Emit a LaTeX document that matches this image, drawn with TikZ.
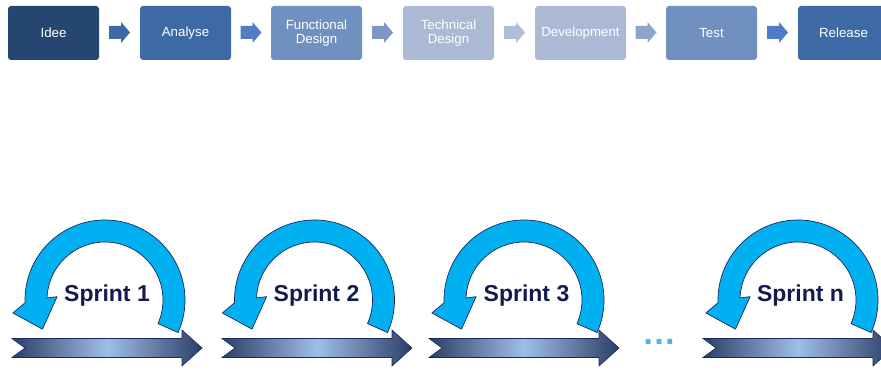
\documentclass[tikz,border=0pt]{standalone}
\usepackage{fontspec}
\setmainfont{Liberation Sans}
\usetikzlibrary{calc}
\definecolor{cIdee}{HTML}{244670}
\definecolor{cAna}{HTML}{3D69A5}
\definecolor{cFun}{HTML}{7190C2}
\definecolor{cTec}{HTML}{ABB9D5}
\definecolor{aOne}{HTML}{3D68A6}
\definecolor{aTwo}{HTML}{537DC0}
\definecolor{aThree}{HTML}{7E98C6}
\definecolor{aFour}{HTML}{B0BEDA}
\definecolor{aFive}{HTML}{8FA5CC}
\definecolor{aSix}{HTML}{4F7CC4}
\definecolor{loopblue}{HTML}{00B0F0}
\definecolor{navyline}{HTML}{1B2560}
\definecolor{barDark}{HTML}{2A3F68}
\definecolor{barLight}{HTML}{A0BEE6}
\definecolor{sprinttext}{HTML}{141A4E}
\definecolor{dotblue}{HTML}{50B4EA}
\tikzset{
  phase/.style={rounded corners=3pt, minimum width=91pt, minimum height=54pt,
    inner sep=0pt, align=center, text=white,
    font=\fontsize{13.3}{14}\selectfont},
  pics/chev/.style={code={
    \fill[#1] (-10.5,6.5) -- (1.5,6.5) -- (1.5,10.5) -- (10.5,0) -- (1.5,-10.5)
      -- (1.5,-6.5) -- (-10.5,-6.5) -- cycle;}},
  pics/sprintbar/.style={code={
    \draw[draw=navyline, line width=0.6pt, left color=barDark, right color=barDark,
      middle color=barLight]
      (0,9.5) -- (170,9.5) -- (170,18) -- (190,0) -- (170,-18) -- (170,-9.5)
      -- (0,-9.5) -- (13,0) -- cycle;}},
  pics/sprintarc/.style={code={
    \draw[draw=navyline, line width=0.7pt, fill=loopblue, line join=round]
      (-24:80) arc[start angle=-24, end angle=182, radius=80]
      -- (188:93) -- (205:69) -- (176:48) -- (178:58)
      arc[start angle=178, end angle=-24, radius=58] -- cycle;}},
  sprintlabel/.style={anchor=base, text=sprinttext, inner sep=0pt,
    font=\fontsize{23}{25}\selectfont\bfseries}
}
\begin{document}
\begin{tikzpicture}[x=1pt,y=1pt]
\useasboundingbox (0,0) rectangle (881,370);
\clip (0,0) rectangle (881,370);
% top process
\node[phase, fill=cIdee] (b1) at (53.5,337) {Idee};
\node[phase, fill=cAna] (b2) at (185.5,337) {Analyse};
\node[phase, fill=cFun] (b3) at (316.5,337) {Functional\\Design};
\node[phase, fill=cTec] (b4) at (448.5,337) {Technical\\Design};
\node[phase, fill=cTec] (b5) at (580.5,337) {Development};
\node[phase, fill=cFun] (b6) at (711.5,337) {Test};
\node[phase, fill=cAna] (b7) at (843.5,337) {Release};
\pic at ($(b1.east)!0.5!(b2.west)+(0,0.5)$) {chev=aOne};
\pic at ($(b2.east)!0.5!(b3.west)+(0,0.5)$) {chev=aTwo};
\pic at ($(b3.east)!0.5!(b4.west)+(0,0.5)$) {chev=aThree};
\pic at ($(b4.east)!0.5!(b5.west)+(0,0.5)$) {chev=aFour};
\pic at ($(b5.east)!0.5!(b6.west)+(0,0.5)$) {chev=aFive};
\pic at ($(b6.east)!0.5!(b7.west)+(0,0.5)$) {chev=aSix};
% bottom bars
\pic at (12,22) {sprintbar};
\pic at (222,22) {sprintbar};
\pic at (429,22) {sprintbar};
\pic at (703,22) {sprintbar};
% sprint loops
\pic at (105,70) {sprintarc};
\pic at (314.5,70) {sprintarc};
\pic at (524,70) {sprintarc};
\pic at (798,70) {sprintarc};
\node[sprintlabel] (s1) at (107,69) {Sprint 1};
\node[sprintlabel] (s2) at (316.5,69) {Sprint 2};
\node[sprintlabel] (s3) at (526.5,69) {Sprint 3};
\node[sprintlabel] (s4) at (800.5,69) {Sprint n};
\node[anchor=base, inner sep=0pt, text=dotblue, font=\fontsize{34}{36}\selectfont\bfseries] (dots) at (659,26) {…};
\end{tikzpicture}
\end{document}
